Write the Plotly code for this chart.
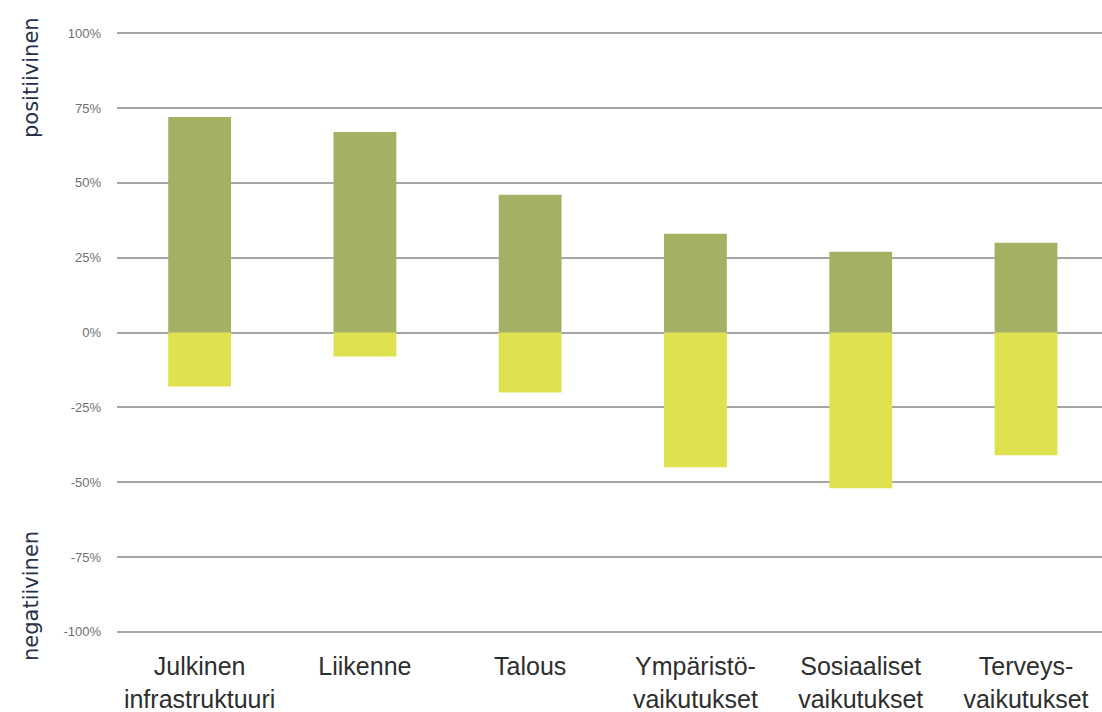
import plotly.graph_objects as go

categories = ["Julkinen<br>infrastruktuuri", "Liikenne", "Talous",
              "Ympäristö-<br>vaikutukset", "Sosiaaliset<br>vaikutukset", "Terveys-<br>vaikutukset"]
positive = [72, 67, 46, 33, 27, 30]
negative = [-18, -8, -20, -45, -52, -41]
tick_vals = [100, 75, 50, 25, 0, -25, -50, -75, -100]
tick_text = ["100%", "75%", "50%", "25%", "0%", "-25%", "-50%", "-75%", "-100%"]

L, R, T, B = 117, 0, 31, 78
W, H = 1102, 712

fig = go.Figure()
fig.add_trace(go.Bar(x=categories, y=positive, name="positiivinen",
                     marker=dict(color="#a4b062", line=dict(width=0))))
fig.add_trace(go.Bar(x=categories, y=negative, name="negatiivinen",
                     marker=dict(color="#dfe24f", line=dict(width=0))))

fig.update_layout(
    barmode="relative",
    bargap=0.62,
    width=W, height=H,
    margin=dict(l=L, r=R, t=T, b=B, autoexpand=False),
    plot_bgcolor="white", paper_bgcolor="white",
    showlegend=False,
    font=dict(family="Liberation Sans, Arial", color="#333333"),
    xaxis=dict(showgrid=False, showline=False, ticks="", ticklabelstandoff=15,
               range=[-0.5, 5.46],
               tickfont=dict(size=25, color="#2e2e2e", family="Liberation Sans, Arial")),
    yaxis=dict(range=[-100.7, 100.7], tickvals=tick_vals, ticktext=tick_text,
               showgrid=True, gridcolor="#a6a6a6", gridwidth=2,
               zeroline=True, zerolinecolor="#a6a6a6", zerolinewidth=2,
               showline=False, ticks="", ticklabelstandoff=15,
               tickfont=dict(size=13, color="#707070", family="Liberation Sans, Arial")),
    annotations=[
        dict(text="positiivinen", x=31, y=85, xref="paper", yref="y",
             textangle=-90, showarrow=False, xanchor="center", yanchor="middle",
             font=dict(size=21, color="#25304a", family="DejaVu Sans, Arial")),
        dict(text="negatiivinen", x=31, y=-88, xref="paper", yref="y",
             textangle=-90, showarrow=False, xanchor="center", yanchor="middle",
             font=dict(size=21, color="#25304a", family="DejaVu Sans, Arial")),
    ],
)
# convert pixel x to paper coordinates for side labels
for a in fig.layout.annotations:
    a.x = (a.x - L) / (W - L - R)

fig.write_html("out.html",
               config={"displayModeBar": False},
               post_script="document.body.style.margin='0';document.body.style.overflow='hidden';")
